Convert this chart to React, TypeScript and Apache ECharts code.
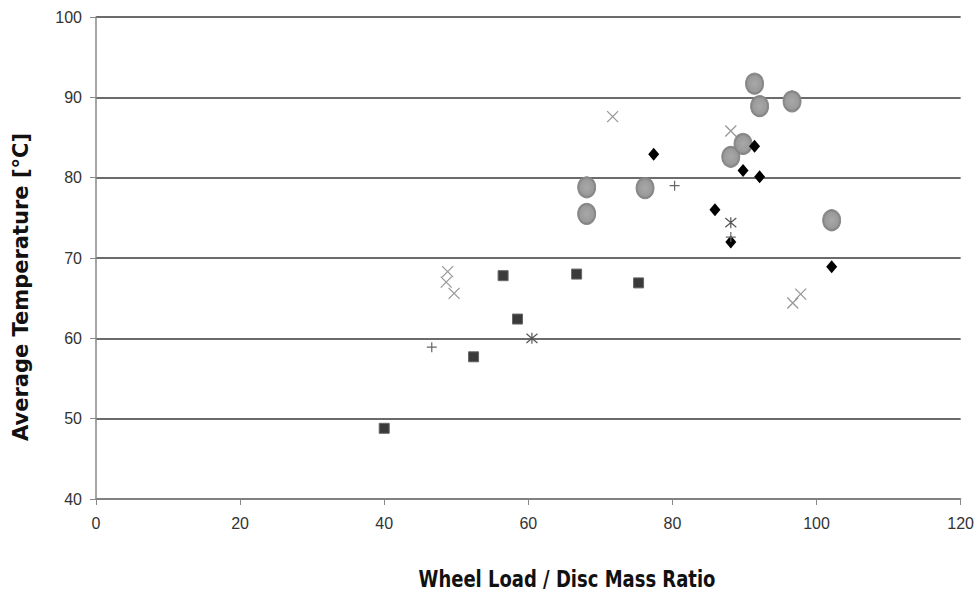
import React, { useEffect, useRef } from "react";
import * as echarts from "echarts";

const squares: number[][] = [
  [40.0, 48.8], [52.4, 57.7], [56.5, 67.8], [58.5, 62.4], [66.7, 68.0], [75.3, 66.9],
];
const circles: number[][] = [
  [68.1, 78.8], [68.1, 75.5], [76.2, 78.7], [88.1, 82.6], [89.8, 84.2],
  [91.4, 91.7], [92.1, 88.9], [96.6, 89.5], [102.1, 74.7],
];
const diamonds: number[][] = [
  [77.4, 82.9], [85.9, 76.0], [88.1, 72.0], [89.8, 80.9], [91.4, 83.9], [92.1, 80.1], [102.1, 68.9],
];
const crosses: number[][] = [
  [48.8, 68.3], [48.6, 67.0], [49.7, 65.6], [71.7, 87.6], [88.1, 85.8], [96.7, 64.4], [97.8, 65.5],
];
const pluses: number[][] = [
  [46.6, 58.9], [80.3, 79.0], [88.1, 72.6],
];
const asterisks: number[][] = [
  [60.5, 60.0], [88.1, 74.4],
];

const X_TITLE = "Wheel Load / Disc Mass Ratio";
const Y_TITLE = "Average Temperature [°C]";

const X_PATH = "path://M0,0L10,10M10,0L0,10";
const PLUS_PATH = "path://M5,0L5,10M0,5L10,5";
const AST_PATH = "path://M0,0L10,10M10,0L0,10M5,-1L5,11";

export default function App() {
  const ref = useRef<HTMLDivElement>(null);
  useEffect(() => {
    const chart = echarts.init(ref.current!, null, { renderer: "svg" });
    const tickFont = { fontFamily: "'Liberation Sans', Arial, sans-serif", fontSize: 16, color: "#333" };
    chart.setOption({
      animation: false,
      backgroundColor: "#fff",
      grid: { left: 96, right: 16, top: 17, bottom: 95 },
      graphic: [
        {
          type: "text", x: 567, y: 579, scaleX: 0.8,
          style: {
            text: X_TITLE, fontFamily: "'DejaVu Sans', sans-serif", fontWeight: "bold", fontSize: 22.5,
            fill: "#111", textAlign: "center", textVerticalAlign: "middle",
          },
        },
        {
          type: "text", x: 21, y: 287, rotation: Math.PI / 2,
          style: {
            text: Y_TITLE, fontFamily: "'DejaVu Sans', sans-serif", fontWeight: "bold", fontSize: 21,
            fill: "#111", textAlign: "center", textVerticalAlign: "middle",
          },
        },
      ],
      xAxis: {
        type: "value", min: 0, max: 120, interval: 20,
        axisLine: { lineStyle: { color: "#888", width: 1.5 } },
        axisTick: { show: true, inside: false, length: 6, lineStyle: { color: "#888" } },
        axisLabel: { ...tickFont, margin: 16 },
        splitLine: { show: false },
      },
      yAxis: {
        type: "value", min: 40, max: 100, interval: 10,
        axisLine: { show: true, lineStyle: { color: "#888", width: 1.5 } },
        axisTick: { show: true, inside: false, length: 6, lineStyle: { color: "#888" } },
        axisLabel: { ...tickFont, margin: 14 },
        splitLine: { show: true, lineStyle: { color: "#3a3a3a", width: 1.5 } },
      },
      series: [
        {
          type: "scatter", data: circles, symbol: "circle", symbolSize: [18, 21],
          itemStyle: {
            color: new echarts.graphic.RadialGradient(0.5, 0.5, 0.5, [
              { offset: 0, color: "#a8a8a8" }, { offset: 0.75, color: "#9a9a9a" }, { offset: 1, color: "#7a7a7a" },
            ]),
            borderColor: "#888", borderWidth: 1, opacity: 1,
          },
        },
        {
          type: "scatter", data: squares, symbol: "rect", symbolSize: 10,
          itemStyle: { color: "#3a3a3a", borderColor: "#666", borderWidth: 1, opacity: 1 },
        },
        {
          type: "scatter", data: diamonds, symbol: "diamond", symbolSize: [11, 13],
          itemStyle: { color: "#000", opacity: 1 },
        },
        {
          type: "scatter", data: crosses, symbol: X_PATH, symbolSize: 11,
          itemStyle: { color: "none", borderColor: "#999", borderWidth: 1.3, opacity: 1 },
        },
        {
          type: "scatter", data: pluses, symbol: PLUS_PATH, symbolSize: 10,
          itemStyle: { color: "none", borderColor: "#666", borderWidth: 1.2, opacity: 1 },
        },
        {
          type: "scatter", data: asterisks, symbol: AST_PATH, symbolSize: 11,
          itemStyle: { color: "none", borderColor: "#555", borderWidth: 1.2, opacity: 1 },
        },
      ],
    });
    return () => chart.dispose();
  }, []);
  return <div ref={ref} style={{ width: 977, height: 594, position: "fixed", left: 0, top: 0 }} />;
}
